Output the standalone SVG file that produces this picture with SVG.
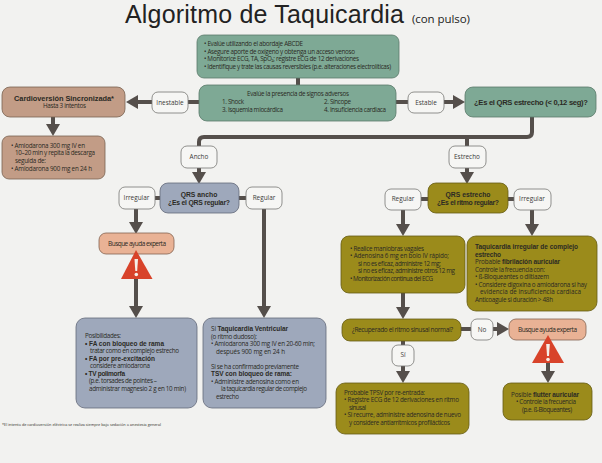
<svg xmlns="http://www.w3.org/2000/svg" width="602" height="463" viewBox="0 0 602 463">
<style>
text{font-family:"Open Sans","Noto Sans","Liberation Sans",sans-serif;fill:#2b2a24;font-size:6.300px}
.b{font-weight:700;font-family:"Liberation Sans","Open Sans",sans-serif;font-size:6.500px}
.m{text-anchor:middle}
.lab{font-size:6.400px;text-anchor:middle;fill:#3a3a38}
.big{font-size:6.500px}
.n{stroke-width:.8}
.green{fill:#7ea995;stroke:#5a7a6a}
.brown{fill:#c29c86;stroke:#7a6352}
.blue{fill:#9ea8bb;stroke:#636a7a}
.olive{fill:#9b8b1b;stroke:#665c14}
.salmon{fill:#e9b295;stroke:#846350}
.tag{fill:#f6f6f4;stroke:#777774;stroke-width:.8}
.c{fill:none;stroke:#554f4b;stroke-width:4}
.tri{fill:#d8432a}
.ex{fill:#f5efe8}
</style>
<defs>
<marker id="h" markerUnits="userSpaceOnUse" markerWidth="14" markerHeight="14" refX="0" refY="7" orient="auto"><path d="M0,0 L12,7 L0,14 Z" fill="#554f4b"/></marker>
</defs>
<rect width="602" height="463" fill="#f2f2f0"/>
<g id="title">
<text x="125" y="23" textLength="279" style="font-family:'Liberation Sans',sans-serif;font-size:25px;fill:#222">Algoritmo de Taquicardia</text>
<text x="412" y="22.500" textLength="58" style="font-size:11.500px;fill:#222">(con pulso)</text>
</g>
<g id="connectors">
<path class="c" d="M298,78V85"/>
<path class="c" d="M199,146V142Q199,137 204,137H527Q532,137 532,132V117"/>
<path class="c" d="M467,137V146"/>
<path class="c" d="M199,102H188"/>
<path class="c" d="M152,102H138" marker-end="url(#h)"/>
<path class="c" d="M396,102H408"/>
<path class="c" d="M444,102H453" marker-end="url(#h)"/>
<path class="c" d="M53,117V124" marker-end="url(#h)"/>
<path class="c" d="M199,168V172" marker-end="url(#h)"/>
<path class="c" d="M160,198H155"/>
<path class="c" d="M239,198H246"/>
<path class="c" d="M136,209V222" marker-end="url(#h)"/>
<path class="c" d="M136,279V306" marker-end="url(#h)"/>
<path class="c" d="M264,209V306" marker-end="url(#h)"/>
<path class="c" d="M467,168V172" marker-end="url(#h)"/>
<path class="c" d="M428,199H421"/>
<path class="c" d="M508,199H514"/>
<path class="c" d="M403,210V224" marker-end="url(#h)"/>
<path class="c" d="M532,210V224" marker-end="url(#h)"/>
<path class="c" d="M403,293V307" marker-end="url(#h)"/>
<path class="c" d="M461,329H471"/>
<path class="c" d="M493,329H497" marker-end="url(#h)"/>
<path class="c" d="M403,341V345"/>
<path class="c" d="M403,366V371" marker-end="url(#h)"/>
<path class="c" d="M548,363V371" marker-end="url(#h)"/>
</g>
<g id="assess">
<rect class="n green" x="197" y="35" width="202" height="43" rx="7"/>
<text x="204" y="46" textLength="99">• Evalúe utilizando el abordaje ABCDE</text>
<text x="204" y="53.700" textLength="151">• Asegure aporte de oxígeno y obtenga un acceso venoso</text>
<text x="204" y="61.300" textLength="155">• Monitorice ECG, TA, SpO₂; registre ECG de 12 derivaciones</text>
<text x="204" y="69" textLength="187">• Identifique y trate las causas reversibles (p.e. alteraciones electrolíticas)</text>
</g>
<g id="adverse">
<rect class="n green" x="199" y="85" width="197" height="36" rx="8"/>
<text x="247" y="96" textLength="102">Evalúe la presencia de signos adversos</text>
<text x="222" y="104" textLength="22">1. Shock</text>
<text x="222" y="112" textLength="61">3. Isquemia miocárdica</text>
<text x="324" y="104" textLength="27">2. Síncope</text>
<text x="324" y="112" textLength="62">4. Insuficiencia cardiaca</text>
</g>
<g id="cardioversion">
<rect class="n brown" x="2" y="87" width="123" height="30" rx="8"/>
<text class="b" x="14" y="100.500" textLength="100" style="font-size:7.400px">Cardioversión Sincronizada*</text>
<text x="43" y="108" textLength="43">Hasta 3 intentos</text>
</g>
<g id="amiodarona">
<rect class="n brown" x="2" y="136" width="103" height="43" rx="7"/>
<text x="11" y="147.500" textLength="74">• Amiodarona 300 mg IV en</text>
<text x="15" y="155.300" textLength="80">10–20 min y repita la descarga</text>
<text x="15" y="163" textLength="31">seguida de:</text>
<text x="11" y="170.800" textLength="81">• Amiodarona 900 mg en 24 h</text>
</g>
<g id="inestable"><rect class="tag" x="152" y="92" width="36" height="21" rx="6"/><text class="lab" x="170" y="104.500">Inestable</text></g>
<g id="estable"><rect class="tag" x="408" y="92" width="36" height="21" rx="6"/><text class="lab" x="426" y="104.500">Estable</text></g>
<g id="qrs-question">
<rect class="n green" x="465" y="87" width="131" height="30" rx="8"/>
<text class="b" x="474" y="105" textLength="114" style="font-size:7.600px">¿Es el QRS estrecho (&lt; 0,12 seg)?</text>
</g>
<g id="ancho"><rect class="tag" x="181" y="146" width="36" height="22" rx="6"/><text class="lab" x="199" y="158.500">Ancho</text></g>
<g id="estrecho"><rect class="tag" x="449" y="146" width="37" height="22" rx="6"/><text class="lab" x="467" y="158.500">Estrecho</text></g>
<g id="qrs-ancho">
<rect class="n blue" x="160" y="183" width="79" height="30" rx="8"/>
<text class="b m" x="199" y="196.500" style="font-size:6.800px">QRS ancho</text>
<text class="b m" x="199" y="204.500" textLength="62" style="font-size:6.800px">¿Es el QRS regular?</text>
</g>
<g id="irregular-a"><rect class="tag" x="119" y="187" width="36" height="22" rx="6"/><text class="lab" x="136.500" y="199.500">Irregular</text></g>
<g id="regular-a"><rect class="tag" x="246" y="187" width="36" height="22" rx="6"/><text class="lab" x="264" y="199.500">Regular</text></g>
<g id="help-left">
<rect class="n salmon" x="99" y="233" width="75" height="21" rx="7"/>
<text class="big" x="108" y="245.500" textLength="58">Busque ayuda experta</text>
<path class="tri" d="M136,250 L152.500,279 H121 Z"/>
<path class="ex" d="M134.500,259 H138 L137.200,271 H135.300 Z"/><circle class="ex" cx="136.300" cy="274.500" r="1.800"/>
</g>
<g id="blue-left">
<rect class="n blue" x="76" y="318" width="121" height="90" rx="9"/>
<text x="85" y="337.500" textLength="36">Posibilidades:</text>
<text class="b" x="85" y="345.500" textLength="79">• FA con bloqueo de rama</text>
<text x="90" y="353" textLength="89">tratar como en complejo estrecho</text>
<text class="b" x="85" y="360.500" textLength="70">• FA por pre-excitación</text>
<text x="90" y="368" textLength="60">considere amiodarona</text>
<text class="b" x="85" y="375.500" textLength="40">• TV polimorfa</text>
<text x="89" y="383" textLength="68">(p.e. torsades de pointes –</text>
<text x="89" y="390.500" textLength="97">administrar magnesio 2 g en 10 min)</text>
</g>
<g id="blue-right">
<rect class="n blue" x="203" y="318" width="123" height="90" rx="9"/>
<text x="211" y="331" textLength="77">Si <tspan class="b">Taquicardia Ventricular</tspan></text>
<text x="211" y="338.500" textLength="46">(o ritmo dudoso):</text>
<text x="211" y="346" textLength="104">• Amiodarona 300 mg IV en 20-60 min;</text>
<text x="216" y="353.500" textLength="69">después 900 mg en 24 h</text>
<text x="211" y="368.500" textLength="88">Si se ha confirmado previamente</text>
<text class="b" x="211" y="376" textLength="81">TSV con bloqueo de rama:</text>
<text x="211" y="383.500" textLength="88">• Administre adenosina como en</text>
<text x="221" y="391" textLength="86">la taquicardia regular de complejo</text>
<text x="216" y="398.500" textLength="23">estrecho</text>
</g>
<text id="footnote" x="2" y="425.500" textLength="159" style="font-size:3.800px">*El intento de cardioversión eléctrica se realiza siempre bajo sedación o anestesia general</text>
<g id="qrs-estrecho">
<rect class="n olive" x="428" y="183" width="80" height="30" rx="8"/>
<text class="b m" x="468" y="196.500" style="font-size:6.800px">QRS estrecho</text>
<text class="b m" x="468" y="204.500" textLength="62" style="font-size:6.800px">¿Es el ritmo regular?</text>
</g>
<g id="regular-e"><rect class="tag" x="385" y="189" width="36" height="21" rx="6"/><text class="lab" x="403" y="200.500">Regular</text></g>
<g id="irregular-e"><rect class="tag" x="514" y="189" width="37" height="21" rx="6"/><text class="lab" x="532" y="200.500">Irregular</text></g>
<g id="olive-vagal">
<rect class="n olive" x="341" y="236" width="124" height="57" rx="8"/>
<text x="350" y="250.500" textLength="74">• Realice maniobras vagales</text>
<text x="350" y="258" textLength="99">• Adenosina 6 mg en bolo IV rápido;</text>
<text x="358" y="265.500" textLength="83">si no es eficaz, administre 12 mg;</text>
<text x="358" y="273" textLength="97">si no es eficaz, administre otros 12 mg</text>
<text x="350" y="281" textLength="83">• Monitorización continua del ECG</text>
</g>
<g id="olive-fa">
<rect class="n olive" x="467" y="236" width="130" height="75" rx="9"/>
<text class="b" x="475" y="249" textLength="103">Taquicardia irregular de complejo</text>
<text class="b" x="475" y="256.500" textLength="26">estrecho</text>
<text x="475" y="264" textLength="85">Probable <tspan class="b">fibrilación auricular</tspan></text>
<text x="475" y="271.500" textLength="70">Controle la frecuencia con:</text>
<text x="475" y="279" textLength="74">• ß-Bloqueantes o diltiazem</text>
<text x="475" y="286.500" textLength="112">• Considere digoxina o amiodarona si hay</text>
<text x="480" y="294" textLength="101">evidencia de insuficiencia cardiaca</text>
<text x="475" y="302" textLength="78">Anticoagule si duración &gt; 48h</text>
</g>
<g id="recuperado">
<rect class="n olive" x="342" y="319" width="119" height="22" rx="8"/>
<text class="big" x="352" y="331.500" textLength="101">¿Recuperado el ritmo sinusal normal?</text>
</g>
<g id="no"><rect class="tag" x="471" y="319" width="22" height="21" rx="6"/><text class="lab" x="482" y="331.500">No</text></g>
<g id="si"><rect class="tag" x="392" y="345" width="22" height="21" rx="6"/><text class="lab" x="403" y="356.500">Sí</text></g>
<g id="help-right">
<rect class="n salmon" x="509" y="319" width="77" height="21" rx="7"/>
<text class="big" x="518" y="331.500" textLength="59">Busque ayuda experta</text>
<path class="tri" d="M548,335 L564,363 H532 Z"/>
<path class="ex" d="M546.200,344 H549.800 L549,356 H547 Z"/><circle class="ex" cx="548" cy="359.500" r="1.800"/>
</g>
<g id="olive-tpsv">
<rect class="n olive" x="336" y="383" width="133" height="51" rx="9"/>
<text x="344" y="394.500" textLength="81">Probable TPSV por re-entrada:</text>
<text x="344" y="402" textLength="115">• Registre ECG de 12 derivaciones en ritmo</text>
<text x="349" y="409.500" textLength="17">sinusal</text>
<text x="344" y="417" textLength="117">• Si recurre, administre adenosina de nuevo</text>
<text x="349" y="425" textLength="101">y considere antiarrítmicos profilácticos</text>
</g>
<g id="olive-flutter">
<rect class="n olive" x="503" y="383" width="89" height="37" rx="8"/>
<text x="511" y="396.500" textLength="68">Posible <tspan class="b">flutter auricular</tspan></text>
<text x="516" y="404" textLength="60">• Controle la frecuencia</text>
<text x="522" y="411.500" textLength="50">(p.e. ß-Bloqueantes)</text>
</g>
</svg>
